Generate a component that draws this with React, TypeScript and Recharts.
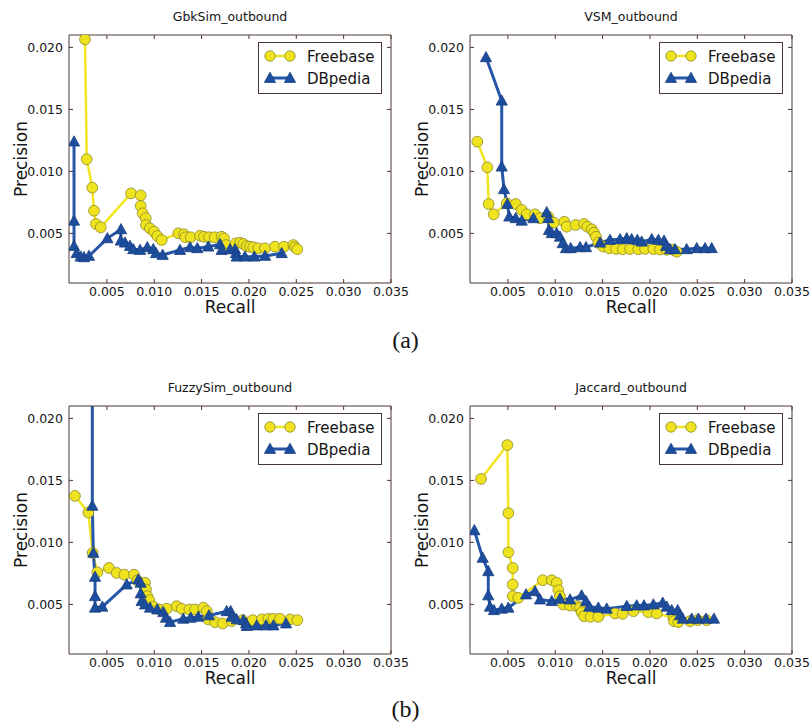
import { Label, Legend, Line, LineChart, XAxis, YAxis } from 'recharts';

// Precision / recall pairs for each similarity measure, ordered by recall.
const gbkFreebaseRecall = [0.00269, 0.00287, 0.00346, 0.00364, 0.00385, 0.00435, 0.00755, 0.00857, 0.00857, 0.00878, 0.0091, 0.00913, 0.00955, 0.00998, 0.01032, 0.01079, 0.01254, 0.01314, 0.01328, 0.01385, 0.01483, 0.01526, 0.01578, 0.01638, 0.01712, 0.01737, 0.01755, 0.0186, 0.01906, 0.0194, 0.01976, 0.02011, 0.02046, 0.02099, 0.0217, 0.02275, 0.0237, 0.02469, 0.02487, 0.02511];
const gbkFreebasePrecision = [0.02065, 0.01098, 0.00869, 0.00683, 0.00576, 0.00549, 0.00823, 0.00807, 0.00721, 0.00662, 0.00622, 0.00568, 0.00541, 0.00514, 0.00479, 0.00447, 0.00501, 0.00493, 0.00469, 0.00469, 0.00481, 0.00473, 0.00469, 0.00469, 0.00473, 0.0046, 0.00406, 0.0042, 0.00425, 0.00415, 0.00398, 0.00393, 0.00388, 0.0038, 0.0038, 0.00393, 0.00393, 0.00406, 0.00388, 0.00372];
const gbkDbpediaRecall = [0.00153, 0.00153, 0.00153, 0.00181, 0.00223, 0.00258, 0.00311, 0.00505, 0.00649, 0.00646, 0.00691, 0.00744, 0.00779, 0.0085, 0.00927, 0.0099, 0.01019, 0.01089, 0.01272, 0.01378, 0.01455, 0.01571, 0.01695, 0.01712, 0.018, 0.01853, 0.01863, 0.01871, 0.01958, 0.02057, 0.0217, 0.02346];
const gbkDbpediaPrecision = [0.0124, 0.00602, 0.00398, 0.0034, 0.00312, 0.00307, 0.00318, 0.0046, 0.00533, 0.00441, 0.00425, 0.00398, 0.00372, 0.00366, 0.00388, 0.00372, 0.0034, 0.00326, 0.00366, 0.00388, 0.0038, 0.00393, 0.00412, 0.00366, 0.00372, 0.00372, 0.0034, 0.00312, 0.00312, 0.00312, 0.00318, 0.0034];

const vsmFreebaseRecall = [0.00177, 0.00283, 0.00297, 0.0035, 0.00488, 0.00583, 0.00646, 0.00699, 0.00786, 0.00839, 0.00927, 0.00987, 0.01096, 0.01121, 0.01216, 0.01304, 0.01339, 0.01385, 0.01409, 0.0143, 0.01455, 0.01508, 0.01571, 0.01642, 0.01712, 0.0179, 0.01877, 0.01948, 0.02036, 0.02106, 0.02177, 0.02247, 0.02283];
const vsmFreebasePrecision = [0.0124, 0.01033, 0.00737, 0.00654, 0.00743, 0.00737, 0.00689, 0.00654, 0.00654, 0.00622, 0.00635, 0.00586, 0.00594, 0.00554, 0.00568, 0.00576, 0.00554, 0.00533, 0.00506, 0.00473, 0.00425, 0.00393, 0.0038, 0.00375, 0.00372, 0.00374, 0.00372, 0.00375, 0.00373, 0.0037, 0.00368, 0.00368, 0.00352];
const vsmDbpediaRecall = [0.00269, 0.00435, 0.00435, 0.00459, 0.00494, 0.00515, 0.00583, 0.00646, 0.00769, 0.0091, 0.00927, 0.00934, 0.00963, 0.01015, 0.0105, 0.01079, 0.01114, 0.01163, 0.01262, 0.01325, 0.01473, 0.01578, 0.01684, 0.01755, 0.01807, 0.01867, 0.01913, 0.02019, 0.02089, 0.02149, 0.0217, 0.02212, 0.02265, 0.02388, 0.02494, 0.02582, 0.02652];
const vsmDbpediaPrecision = [0.0192, 0.0157, 0.01038, 0.00856, 0.00737, 0.00635, 0.00622, 0.00602, 0.00622, 0.0067, 0.00622, 0.00527, 0.00501, 0.00501, 0.00473, 0.0042, 0.0038, 0.0038, 0.00388, 0.00388, 0.00425, 0.00447, 0.00453, 0.0046, 0.00453, 0.00447, 0.00433, 0.00453, 0.00447, 0.00441, 0.00398, 0.00372, 0.00372, 0.00372, 0.0038, 0.0038, 0.0038];

const fuzzyFreebaseRecall = [0.00163, 0.00304, 0.0035, 0.00399, 0.00522, 0.00604, 0.00684, 0.00786, 0.00822, 0.00903, 0.00913, 0.00927, 0.00948, 0.0099, 0.01054, 0.01132, 0.01237, 0.0129, 0.01371, 0.01431, 0.01519, 0.01555, 0.01572, 0.01642, 0.01723, 0.01818, 0.01934, 0.0204, 0.02135, 0.02205, 0.02258, 0.02328, 0.02434, 0.02511];
const fuzzyFreebasePrecision = [0.01375, 0.01241, 0.00915, 0.00759, 0.00794, 0.00754, 0.0074, 0.0074, 0.00695, 0.00674, 0.0062, 0.00566, 0.00534, 0.00481, 0.00459, 0.00465, 0.00486, 0.00465, 0.00459, 0.00459, 0.00473, 0.00445, 0.00379, 0.00357, 0.00346, 0.00365, 0.00373, 0.00373, 0.00379, 0.00384, 0.00384, 0.00384, 0.00379, 0.00373];
const fuzzyDbpediaRecall = [0.00346, 0.00346, 0.00357, 0.00375, 0.00375, 0.00375, 0.00452, 0.00709, 0.00832, 0.00857, 0.00857, 0.00867, 0.00903, 0.00955, 0.01032, 0.01096, 0.01124, 0.01167, 0.01307, 0.01385, 0.01465, 0.01578, 0.01765, 0.01807, 0.01818, 0.0187, 0.01941, 0.0197, 0.01977, 0.02082, 0.0218, 0.02258, 0.02392];
const fuzzyDbpediaPrecision = [0.026, 0.01295, 0.00915, 0.00722, 0.00566, 0.00473, 0.00481, 0.0066, 0.007, 0.00674, 0.00588, 0.00526, 0.00499, 0.00473, 0.00459, 0.00437, 0.00392, 0.00357, 0.00384, 0.00392, 0.004, 0.00411, 0.00445, 0.00445, 0.004, 0.00379, 0.00373, 0.00346, 0.00325, 0.0033, 0.0033, 0.0033, 0.00346];

const jaccardFreebaseRecall = [0.00216, 0.00494, 0.00505, 0.00505, 0.00551, 0.00551, 0.00551, 0.0061, 0.00868, 0.00963, 0.01015, 0.01033, 0.0105, 0.01085, 0.01156, 0.01227, 0.01262, 0.01279, 0.01304, 0.01374, 0.01455, 0.01631, 0.01712, 0.01825, 0.01983, 0.02072, 0.02247, 0.02254, 0.023, 0.02423, 0.02504, 0.02599];
const jaccardFreebasePrecision = [0.01512, 0.01785, 0.01236, 0.0092, 0.00794, 0.0066, 0.00566, 0.00553, 0.00695, 0.00695, 0.00674, 0.00614, 0.00566, 0.00499, 0.00491, 0.00486, 0.00473, 0.00437, 0.00405, 0.004, 0.004, 0.00427, 0.00424, 0.00445, 0.00437, 0.00427, 0.00392, 0.00365, 0.00357, 0.00365, 0.00373, 0.00373];
const jaccardDbpediaRecall = [0.00146, 0.00234, 0.00293, 0.00293, 0.00311, 0.00353, 0.00435, 0.00505, 0.00691, 0.00786, 0.00839, 0.00963, 0.0105, 0.01156, 0.01279, 0.01325, 0.0136, 0.01455, 0.01544, 0.01755, 0.0186, 0.01937, 0.02036, 0.02135, 0.02177, 0.0223, 0.02293, 0.02318, 0.02346, 0.02441, 0.02511, 0.02592, 0.02676];
const jaccardDbpediaPrecision = [0.01097, 0.00875, 0.00767, 0.00572, 0.00481, 0.00453, 0.00465, 0.00473, 0.0058, 0.00606, 0.00539, 0.00526, 0.00545, 0.00539, 0.00572, 0.00526, 0.00481, 0.00473, 0.00465, 0.00486, 0.00491, 0.00491, 0.00499, 0.00513, 0.00481, 0.00453, 0.00453, 0.00411, 0.00384, 0.00384, 0.00384, 0.00384, 0.00384];

const X_TICKS = [0.005, 0.01, 0.015, 0.02, 0.025, 0.03, 0.035];
const Y_TICKS = [0.005, 0.01, 0.015, 0.02];
const X_DOMAIN: [number, number] = [0.001, 0.035];
const Y_DOMAIN: [number, number] = [0.001, 0.021];

const FONT = '"DejaVu Sans", Verdana, sans-serif';
const FRAME = '#4a3631';
const TEXT = '#141414';
const FB_LINE = '#f2e51f';
const FB_FILL = '#efe21e';
const FB_EDGE = '#8c8a2a';
const DB_LINE = '#2556a8';
const DB_FILL = '#1d4e9e';
const DB_EDGE = '#173d80';

// plot frame inside each 420x330 chart
const CHART_W = 420;
const CHART_H = 330;
const PLOT_LEFT = 69;
const PLOT_RIGHT = 391;
const PLOT_TOP = 35;
const PLOT_BOTTOM = 283;

const zip = (recall: number[], precision: number[]) =>
  recall.map((x, i) => ({ x, y: precision[i] }));

const circleDot = (props: any) => {
  const { cx, cy, index } = props;
  if (cx == null || cy == null) return <g key={index} />;
  return <circle key={index} cx={cx} cy={cy} r={5.4} fill={FB_FILL} stroke={FB_EDGE} strokeWidth={0.8} />;
};

const trianglePoints = (cx: number, cy: number) =>
  `${cx},${cy - 5.8} ${cx - 5.6},${cy + 4.4} ${cx + 5.6},${cy + 4.4}`;

const triangleDot = (props: any) => {
  const { cx, cy, index } = props;
  if (cx == null || cy == null) return <g key={index} />;
  return <polygon key={index} points={trianglePoints(cx, cy)} fill={DB_FILL} stroke={DB_EDGE} strokeWidth={0.8} />;
};

const LegendBox = () => (
  <svg width={124} height={52} style={{ display: 'block' }}>
    <rect x={0.5} y={0.5} width={123} height={51} fill="#fff" stroke={FRAME} strokeWidth={1} />
    <line x1={12} y1={14} x2={32} y2={14} stroke={FB_LINE} strokeWidth={2.5} />
    <circle cx={12} cy={14} r={5.2} fill={FB_FILL} stroke={FB_EDGE} strokeWidth={0.8} />
    <circle cx={32} cy={14} r={5.2} fill={FB_FILL} stroke={FB_EDGE} strokeWidth={0.8} />
    <text x={49} y={19.5} fontSize={15} fontFamily={FONT} fill={TEXT}>Freebase</text>
    <line x1={12} y1={36} x2={32} y2={36} stroke={DB_LINE} strokeWidth={3} />
    <polygon points={trianglePoints(12, 36)} fill={DB_FILL} stroke={DB_EDGE} strokeWidth={0.8} />
    <polygon points={trianglePoints(32, 36)} fill={DB_FILL} stroke={DB_EDGE} strokeWidth={0.8} />
    <text x={49} y={41.5} fontSize={15} fontFamily={FONT} fill={TEXT}>DBpedia</text>
  </svg>
);

const fmt = (v: number) => v.toFixed(3);
const blank = () => '';
const tickStyle = { fill: TEXT, fontSize: 12.5, fontFamily: FONT };
const centerX = (PLOT_LEFT + PLOT_RIGHT) / 2;

interface PanelProps {
  title: string;
  freebase: { x: number; y: number }[];
  dbpedia: { x: number; y: number }[];
  left: number;
  top: number;
}

const Panel = ({ title, freebase, dbpedia, left, top }: PanelProps) => (
  <div style={{ position: 'absolute', left, top }}>
    <LineChart
      width={CHART_W}
      height={CHART_H}
      margin={{ top: PLOT_TOP - 1, right: CHART_W - PLOT_RIGHT - 1, bottom: CHART_H - PLOT_BOTTOM - 30, left: PLOT_LEFT - 60 }}
    >
      <XAxis
        dataKey="x"
        type="number"
        domain={X_DOMAIN}
        ticks={X_TICKS}
        interval={0}
        allowDataOverflow
        height={30}
        tickSize={-4}
        tickMargin={8}
        stroke={FRAME}
        tick={tickStyle}
        tickFormatter={fmt}
      >
        <Label
          content={() => (
            <text x={centerX} y={PLOT_BOTTOM + 30} textAnchor="middle" fontSize={17} fontFamily={FONT} fill={TEXT}>
              Recall
            </text>
          )}
        />
      </XAxis>
      {/* mirrored axes close the frame with inward ticks on top and right */}
      <XAxis
        xAxisId="top"
        orientation="top"
        dataKey="x"
        type="number"
        domain={X_DOMAIN}
        ticks={X_TICKS}
        interval={0}
        allowDataOverflow
        height={1}
        tickSize={-4}
        stroke={FRAME}
        tickFormatter={blank}
      >
        <Label
          content={() => (
            <text x={centerX} y={PLOT_TOP - 14} textAnchor="middle" fontSize={12.5} fontFamily={FONT} fill={TEXT}>
              {title}
            </text>
          )}
        />
      </XAxis>
      <YAxis
        type="number"
        domain={Y_DOMAIN}
        ticks={Y_TICKS}
        interval={0}
        allowDataOverflow
        width={60}
        tickSize={-4}
        tickMargin={10}
        stroke={FRAME}
        tick={tickStyle}
        tickFormatter={fmt}
      >
        <Label
          content={() => {
            const cy = (PLOT_TOP + PLOT_BOTTOM) / 2;
            return (
              <text
                x={21}
                y={cy}
                transform={`rotate(-90 21 ${cy})`}
                textAnchor="middle"
                dominantBaseline="central"
                fontSize={17}
                fontFamily={FONT}
                fill={TEXT}
              >
                Precision
              </text>
            );
          }}
        />
      </YAxis>
      <YAxis
        yAxisId="right"
        orientation="right"
        type="number"
        domain={Y_DOMAIN}
        ticks={Y_TICKS}
        interval={0}
        allowDataOverflow
        width={1}
        tickSize={-4}
        stroke={FRAME}
        tickFormatter={blank}
      />
      <Legend
        verticalAlign="middle"
        align="center"
        layout="horizontal"
        wrapperStyle={{ left: 258, top: 42, width: 124, height: 52 }}
        content={() => <LegendBox />}
      />
      {/* invisible series bound to the mirrored axes so they get drawn */}
      <Line
        data={freebase}
        dataKey="y"
        xAxisId="top"
        yAxisId="right"
        stroke="none"
        dot={false}
        activeDot={false}
        legendType="none"
        isAnimationActive={false}
      />
      <Line
        data={freebase}
        dataKey="y"
        name="Freebase"
        type="linear"
        stroke={FB_LINE}
        strokeWidth={2.5}
        dot={circleDot}
        activeDot={false}
        isAnimationActive={false}
      />
      <Line
        data={dbpedia}
        dataKey="y"
        name="DBpedia"
        type="linear"
        stroke={DB_LINE}
        strokeWidth={3}
        dot={triangleDot}
        activeDot={false}
        isAnimationActive={false}
      />
    </LineChart>
  </div>
);

export default function App() {
  return (
    <div
      style={{
        position: 'absolute',
        left: 0,
        top: 0,
        width: 810,
        height: 727,
        overflow: 'hidden',
        background: '#fff',
      }}
    >
      <Panel title="GbkSim_outbound" freebase={zip(gbkFreebaseRecall, gbkFreebasePrecision)} dbpedia={zip(gbkDbpediaRecall, gbkDbpediaPrecision)} left={0} top={0} />
      <Panel title="VSM_outbound" freebase={zip(vsmFreebaseRecall, vsmFreebasePrecision)} dbpedia={zip(vsmDbpediaRecall, vsmDbpediaPrecision)} left={401} top={0} />
      <Panel title="FuzzySim_outbound" freebase={zip(fuzzyFreebaseRecall, fuzzyFreebasePrecision)} dbpedia={zip(fuzzyDbpediaRecall, fuzzyDbpediaPrecision)} left={0} top={371} />
      <Panel title="Jaccard_outbound" freebase={zip(jaccardFreebaseRecall, jaccardFreebasePrecision)} dbpedia={zip(jaccardDbpediaRecall, jaccardDbpediaPrecision)} left={401} top={371} />
      <svg width={810} height={727} style={{ position: 'absolute', left: 0, top: 0, pointerEvents: 'none' }}>
        <text x={405.5} y={348} textAnchor="middle" fontSize={24} fontFamily='"Liberation Serif", serif' fill={TEXT}>(a)</text>
        <text x={405.5} y={717} textAnchor="middle" fontSize={24} fontFamily='"Liberation Serif", serif' fill={TEXT}>(b)</text>
      </svg>
    </div>
  );
}
